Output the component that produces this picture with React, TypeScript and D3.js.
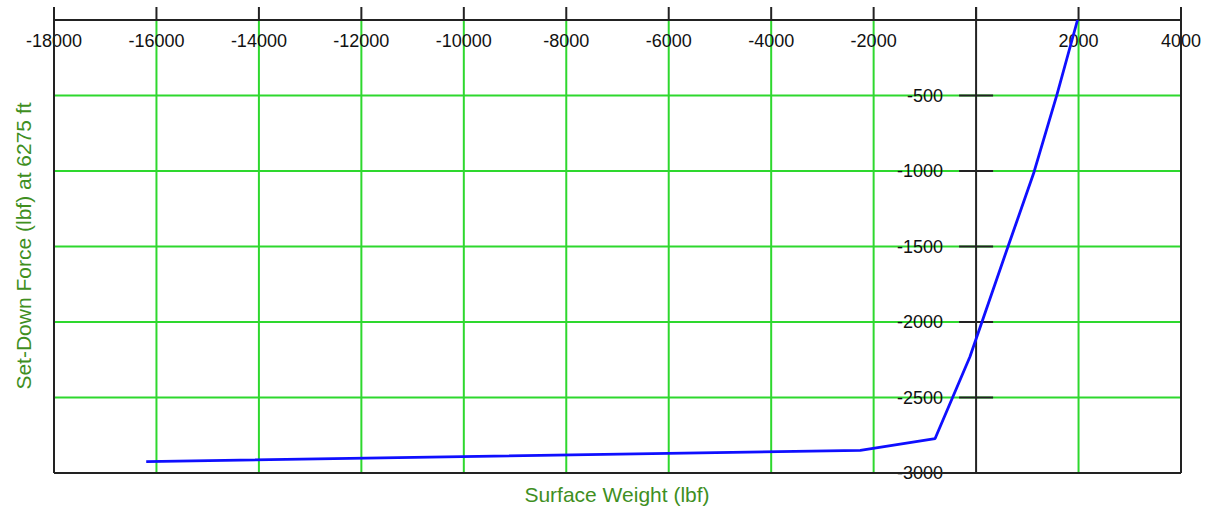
import React from "react";
import * as d3 from "d3";

const xTicks = [-18000, -16000, -14000, -12000, -10000, -8000, -6000, -4000, -2000, 0, 2000, 4000];
const xTickLabels = ["-18000", "-16000", "-14000", "-12000", "-10000", "-8000", "-6000", "-4000", "-2000", "", "2000", "4000"];
const yTicks = [0, -500, -1000, -1500, -2000, -2500, -3000];
const yTickLabels = ["", "-500", "-1000", "-1500", "-2000", "-2500", "-3000"];

const surfaceWeight = [-16200, -2260, -800, -120, 620, 1130, 1580, 1980];
const setDownForce = [-2925, -2850, -2772, -2230, -1503, -1008, -492, 0];

const xTitle = "Surface Weight (lbf)";
const yTitle = "Set-Down Force (lbf) at 6275 ft";

export default function App() {
  const W = 1208, H = 517;
  const left = 54, right = 1181, top = 20, bottom = 473;
  const x = d3.scaleLinear().domain([-18000, 4000]).range([left, right]);
  const y = d3.scaleLinear().domain([0, -3000]).range([top, bottom]);
  const pts = surfaceWeight.map((v, i) => [v, setDownForce[i]] as [number, number]);
  const line = d3.line<[number, number]>().x(d => x(d[0])).y(d => y(d[1]));
  const grid = "#2ed82e";
  const titleColor = "#3f8f1f";
  const font = "'Liberation Sans', Arial, sans-serif";
  const x0 = x(0);

  return (
    <svg width={W} height={H} style={{ position: "absolute", left: 0, top: 0, background: "#fff" }}>
      {/* grid */}
      {xTicks.filter(t => t !== 0 && t !== -18000 && t !== 4000).map(t => (
        <line key={"gx" + t} x1={x(t)} x2={x(t)} y1={top} y2={bottom} stroke={grid} strokeWidth={2} />
      ))}
      {yTicks.filter(t => t !== 0 && t !== -3000).map(t => (
        <line key={"gy" + t} x1={left} x2={right} y1={y(t)} y2={y(t)} stroke={grid} strokeWidth={2} />
      ))}
      {/* y tick labels */}
      {yTicks.map((t, i) => (
        <text key={"yl" + t} x={x0 - 33} y={y(t)} dy="0.36em" textAnchor="end" fontFamily={font} fontSize={18} fill="#111">
          {yTickLabels[i]}
        </text>
      ))}
      {/* x tick labels */}
      {xTicks.map((t, i) => (
        <text key={"xl" + t} x={x(t)} y={47} textAnchor="middle" fontFamily={font} fontSize={18} fill="#111">
          {xTickLabels[i]}
        </text>
      ))}
      {/* frame */}
      <line x1={left} x2={right} y1={top} y2={top} stroke="#222" strokeWidth={2} />
      <line x1={left} x2={right} y1={bottom} y2={bottom} stroke="#222" strokeWidth={2} />
      <line x1={left} x2={left} y1={7} y2={bottom} stroke="#222" strokeWidth={2} />
      <line x1={right} x2={right} y1={7} y2={bottom} stroke="#222" strokeWidth={2} />
      {/* x ticks on top */}
      {xTicks.map(t => (
        <line key={"xt" + t} x1={x(t)} x2={x(t)} y1={7} y2={top} stroke="#222" strokeWidth={2} />
      ))}
      {/* y axis at x=0 */}
      <line x1={x0} x2={x0} y1={7} y2={bottom} stroke="#222" strokeWidth={2} />
      {yTicks.filter(t => t !== 0 && t !== -3000).map(t => (
        <line key={"yt" + t} x1={x0 - 17} x2={x0 + 17} y1={y(t)} y2={y(t)} stroke="#222" strokeWidth={2} />
      ))}
      {/* data line */}
      <path d={line(pts) || ""} fill="none" stroke="#0f0fff" strokeWidth={2.8} strokeLinejoin="round" />
      {/* titles */}
      <text x={617} y={502} textAnchor="middle" fontFamily={font} fontSize={21} fill={titleColor}>{xTitle}</text>
      <text transform={`translate(31,246) rotate(-90)`} textAnchor="middle" fontFamily={font} fontSize={21} fill={titleColor}>{yTitle}</text>
    </svg>
  );
}
